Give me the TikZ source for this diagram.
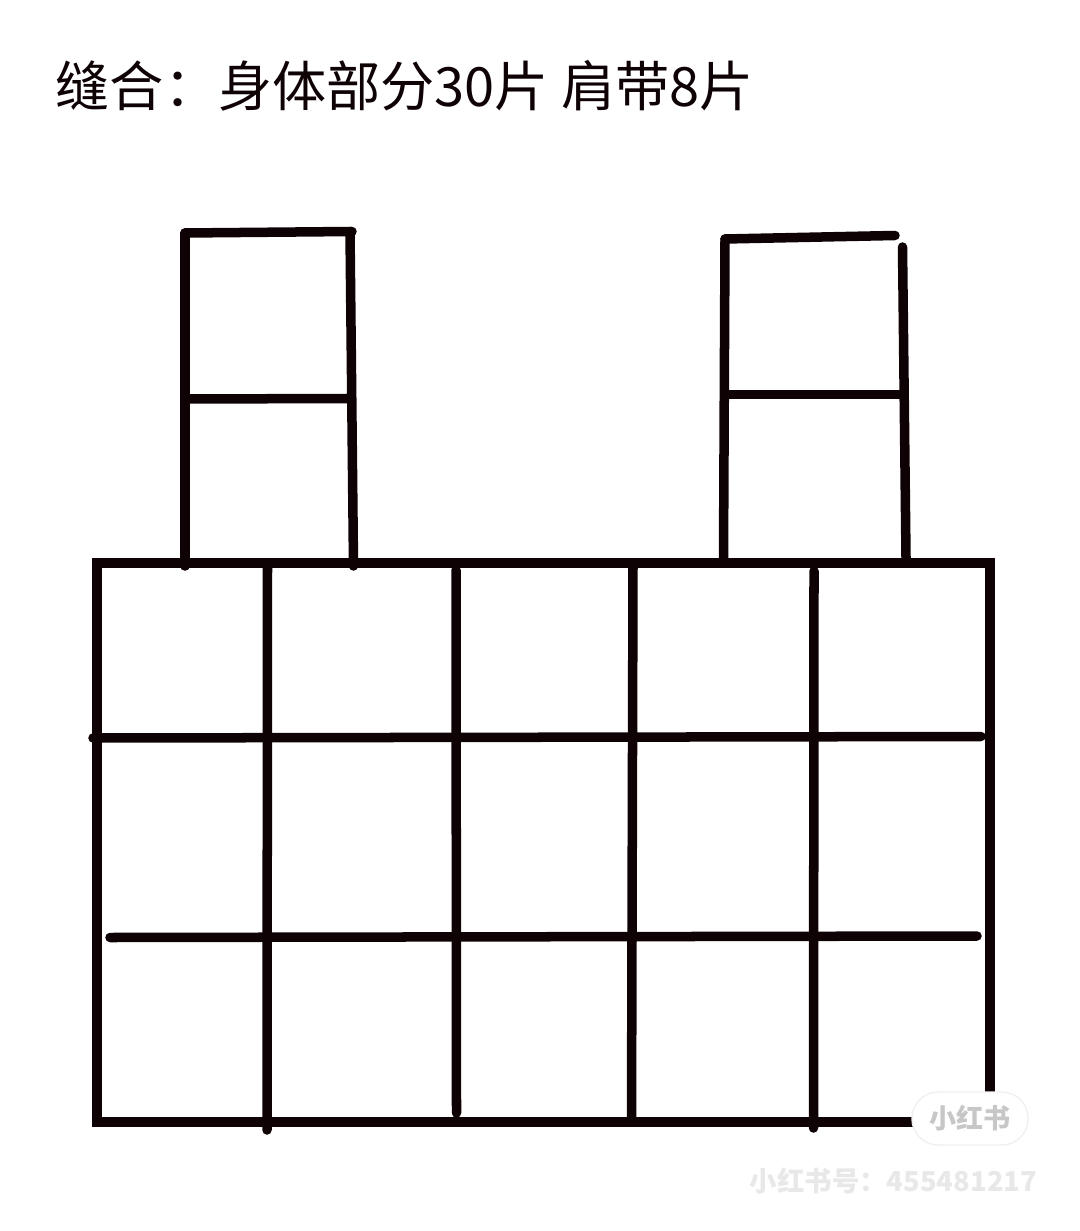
\documentclass[tikz,border=0pt]{standalone}
\usepackage{fontspec}
\newfontfamily\cjk{Noto Sans CJK SC}
\usetikzlibrary{calc}
\definecolor{ink}{RGB}{14,2,5}
\tikzset{pen/.style={line width=0.095cm, color=ink, line cap=round}}

\begin{document}
\begin{tikzpicture}[x=0.01cm, y=-0.01cm]
			%%%%% START %%%%%
			\useasboundingbox (0,0) rectangle (1080,1231);
			
			\node[anchor=base west, inner sep=0pt, text=ink, font=\cjk\fontsize{15.4pt}{18pt}\selectfont] (title) at (55,107) {缝合：身体部分30片 肩带8片};
			
			% left strap
			\draw[pen] (185,233) -- (185,566);
			\draw[pen] (185,233) -- (352,231.5);
			\draw[pen] (350,231.5) -- (353.5,566);
			\draw[pen] (187,399) -- (348,398.5);
			
			% right strap
			\draw[pen] (725,239) -- (723.5,558);
			\draw[pen] (725,239) -- (895,235.5);
			\draw[pen] (902.5,247) -- (906,558);
			\draw[pen] (727,394.5) -- (899,394.5);
			
			% body
			\draw[pen, line cap=butt] (97,563) rectangle (990,1122);
			\draw[pen] (93,738) -- (981,736.5);
			\draw[pen] (110,937.5) -- (977,936);
			\draw[pen] (267.5,563) -- (267,1130);
			\draw[pen] (456,570) -- (456.5,1113);
			\draw[pen] (633,563) -- (631.5,1122);
			\draw[pen] (814,571) -- (813.5,1128);
			
			% watermark
			\draw[fill=white, draw=black!6, rounded corners=0.26cm] (912,1092) rectangle (1028,1145);
			\node[text=black!22, font=\cjk\bfseries\fontsize{7.7pt}{9pt}\selectfont] (wmlogo) at (970,1118) {小红书};
			\node[anchor=base west, inner sep=0pt, text=black!9, font=\cjk\bfseries\fontsize{7.8pt}{10pt}\selectfont] (wmid) at (749,1191) {小红书号：455481217};
			
			%%%%% END %%%%%
\end{tikzpicture}
\end{document}
